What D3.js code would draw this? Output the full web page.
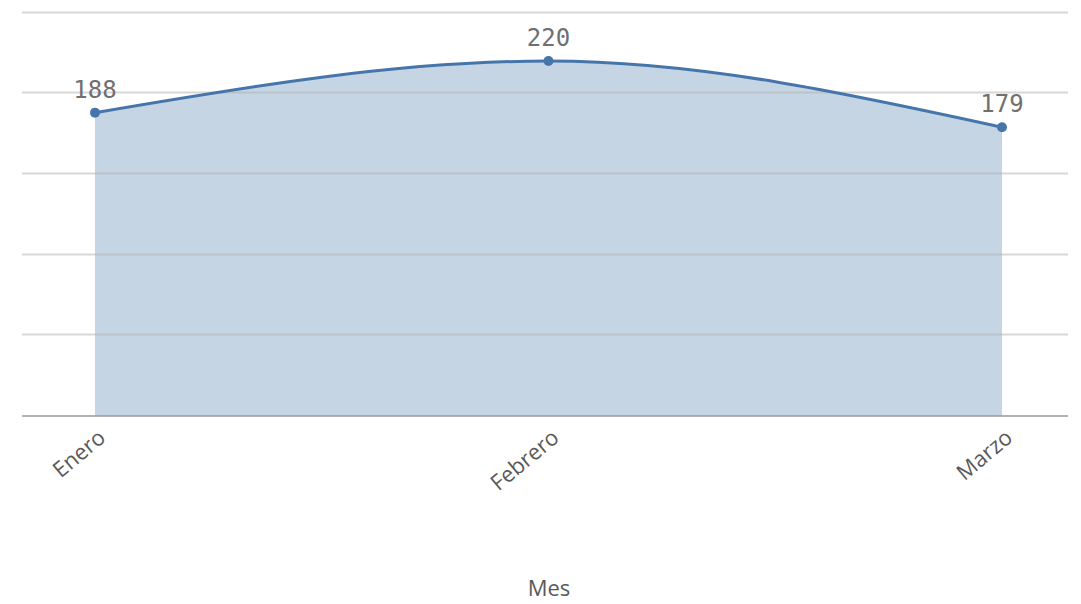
<!DOCTYPE html>
<html><head><meta charset="utf-8">
<script src="https://cdn.jsdelivr.net/npm/d3@7"></script>
<style>body{margin:0;background:#fff;}svg{display:block;}</style>
</head><body>
<svg id="c" width="1081" height="604"></svg>
<script>
const categories = ["Enero", "Febrero", "Marzo"];
const values = [188, 220, 179];
const gridTicks = [50, 100, 150, 200, 250];
const xTitle = "Mes";

(function () {
const svg = d3.select("#c");
const plotLeft = 22, plotRight = 1068, plotTop = 11, base = 416;
const x = d3.scalePoint().domain(categories).range([95, 1002]);
const y = d3.scaleLinear().domain([0, 251]).range([base, plotTop]);
const data = categories.map((c, i) => ({c, v: values[i]}));

const area = d3.area().x(d => x(d.c)).y0(y(0)).y1(d => y(d.v)).curve(d3.curveMonotoneX);
const line = d3.line().x(d => x(d.c)).y(d => y(d.v)).curve(d3.curveMonotoneX);

svg.append("path").datum(data).attr("d", area).attr("fill", "#c5d5e4");

svg.append("g").selectAll("line").data(gridTicks).join("line")
  .attr("x1", plotLeft).attr("x2", plotRight)
  .attr("y1", d => Math.round(y(d)) - 0.5).attr("y2", d => Math.round(y(d)) - 0.5)
  .attr("stroke", "#b0b0b0").attr("stroke-opacity", 0.5).attr("stroke-width", 2);

svg.append("line").attr("x1", plotLeft).attr("x2", plotRight)
  .attr("y1", base).attr("y2", base).attr("stroke", "#999").attr("stroke-width", 1.5);

svg.append("path").datum(data).attr("d", line).attr("fill", "none")
  .attr("stroke", "#4675aa").attr("stroke-width", 3);

svg.append("g").selectAll("circle").data(data).join("circle")
  .attr("cx", d => x(d.c)).attr("cy", d => y(d.v)).attr("r", 5).attr("fill", "#4675aa");

svg.append("g").selectAll("text").data(data).join("text")
  .attr("x", d => x(d.c)).attr("y", d => y(d.v) - 15)
  .attr("text-anchor", "middle").attr("fill", "#707070")
  .style("font-family", "'DejaVu Sans Mono', monospace").style("font-size", "24px")
  .text(d => d.v);

svg.append("g").selectAll("text").data(categories).join("text")
  .attr("transform", d => `translate(${x(d) + 7},${base + 18}) rotate(-40)`)
  .attr("text-anchor", "end").attr("dy", "0.35em").attr("fill", "#595959")
  .style("font-family", "'Open Sans', sans-serif").style("font-size", "22px")
  .text(d => d);

svg.append("text").attr("x", 549).attr("y", 596).attr("text-anchor", "middle")
  .attr("fill", "#595959").style("font-family", "'Open Sans', sans-serif").style("font-size", "22px")
  .text(xTitle);
})();
</script>
</body></html>
